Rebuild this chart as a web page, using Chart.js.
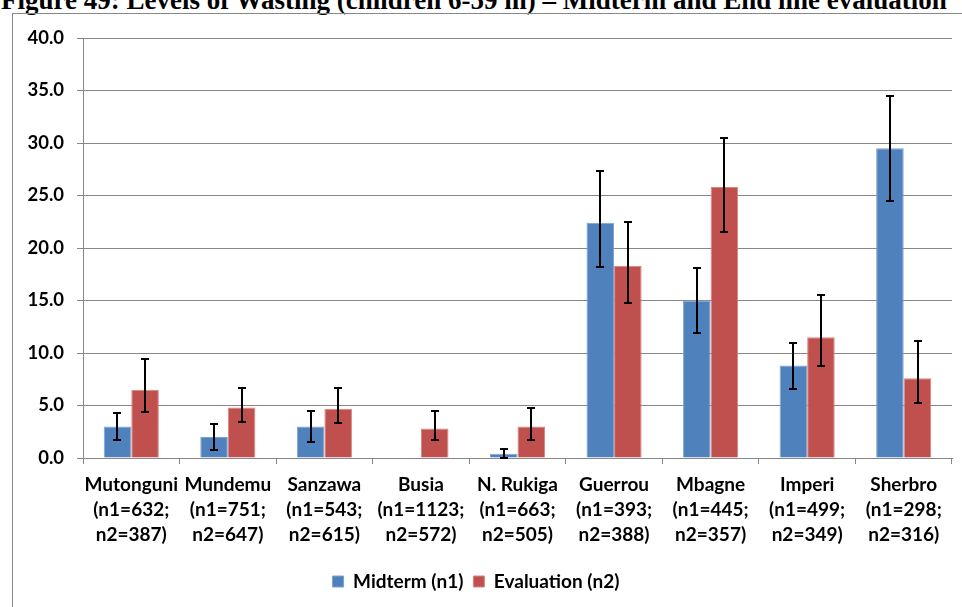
<!DOCTYPE html>
<html>
<head>
<meta charset="utf-8">
<script src="https://cdn.jsdelivr.net/npm/chart.js@4"></script>
<style>
  body { margin: 0; background: #fff; width: 962px; height: 607px; overflow: hidden; position: relative; }
  #title { position: absolute; left: 1px; top: -13px; font: bold 27px/27px "Liberation Serif", serif; white-space: nowrap; color: #000; }
  #frame { position: absolute; left: 12px; top: 13px; width: 1000px; height: 700px; border: 1px solid #878787; box-sizing: border-box; }
  #wrap { position: absolute; left: 0; top: 0; width: 997px; height: 607px; }
</style>
</head>
<body>
<div id="title">Figure 49: Levels of Wasting (children 6-59 m) – Midterm and End line evaluation</div>
<div id="frame"></div>
<div id="wrap"><canvas id="chart"></canvas></div>
<script>
const categories = [
  ['Mutonguni', '(n1=632;', 'n2=387)'],
  ['Mundemu', '(n1=751;', 'n2=647)'],
  ['Sanzawa', '(n1=543;', 'n2=615)'],
  ['Busia', '(n1=1123;', 'n2=572)'],
  ['N. Rukiga', '(n1=663;', 'n2=505)'],
  ['Guerrou', '(n1=393;', 'n2=388)'],
  ['Mbagne', '(n1=445;', 'n2=357)'],
  ['Imperi', '(n1=499;', 'n2=349)'],
  ['Sherbro', '(n1=298;', 'n2=316)']
];
const midterm = [3.0, 2.0, 3.0, 0, 0.4, 22.4, 15.0, 8.8, 29.5];
const evaluation = [6.5, 4.8, 4.7, 2.8, 3.0, 18.3, 25.8, 11.5, 7.6];
const midLow = [1.7, 0.8, 1.5, null, 0.0, 18.2, 11.9, 6.6, 24.5];
const midHigh = [4.3, 3.2, 4.5, null, 0.9, 27.3, 18.1, 11.0, 34.5];
const evalLow = [4.4, 3.4, 3.3, 1.7, 1.7, 14.8, 21.5, 8.8, 5.2];
const evalHigh = [9.4, 6.7, 6.7, 4.5, 4.8, 22.5, 30.5, 15.5, 11.1];

// draws the confidence intervals on top of the bars
const errorBars = {
  id: 'errorBars',
  afterDatasetsDraw(chart) {
    const ctx = chart.ctx;
    const y = chart.scales.y;
    chart.data.datasets.forEach((ds, i) => {
      const meta = chart.getDatasetMeta(i);
      meta.data.forEach((bar, j) => {
        const lo = ds.errLow[j], hi = ds.errHigh[j];
        if (lo == null || hi == null) return;
        const x = Math.round(bar.x);
        const yl = Math.round(y.getPixelForValue(lo)), yh = Math.round(y.getPixelForValue(hi));
        ctx.save();
        ctx.strokeStyle = '#000';
        ctx.lineWidth = 2;
        ctx.beginPath();
        ctx.moveTo(x, yl); ctx.lineTo(x, yh);
        ctx.moveTo(x - 4, yl); ctx.lineTo(x + 4, yl);
        ctx.moveTo(x - 4, yh); ctx.lineTo(x + 4, yh);
        ctx.stroke();
        ctx.restore();
      });
    });
  }
};

const font = { family: 'Lato', weight: 'bold', size: 19 };

new Chart(document.getElementById('chart'), {
  type: 'bar',
  data: {
    labels: categories,
    datasets: [
      { label: 'Midterm (n1)', data: midterm, errLow: midLow, errHigh: midHigh,
        backgroundColor: '#4F81BD', borderColor: '#7DA2D1', borderWidth: 1,
        categoryPercentage: 0.571, barPercentage: 1.0 },
      { label: 'Evaluation (n2)', data: evaluation, errLow: evalLow, errHigh: evalHigh,
        backgroundColor: '#C0504D', borderColor: '#D68583', borderWidth: 1,
        categoryPercentage: 0.571, barPercentage: 1.0 }
    ]
  },
  options: {
    responsive: true,
    maintainAspectRatio: false,
    animation: false,
    layout: { padding: { top: 38, right: 45, bottom: 6, left: 0 } },
    plugins: {
      legend: {
        position: 'bottom',
        labels: { boxWidth: 11, boxHeight: 11, font: font, color: '#000', padding: 10 }
      },
      tooltip: { enabled: false }
    },
    scales: {
      x: {
        grid: { drawOnChartArea: false, color: '#878787', tickLength: 6, offset: true },
        border: { color: '#878787', width: 1 },
        ticks: { font: { ...font, lineHeight: 1.3 }, color: '#000', maxRotation: 0, autoSkip: false, padding: 9 },
        afterFit(scale) { scale.height = 104; scale.paddingLeft = 0; scale.paddingRight = 0; }
      },
      y: {
        min: 0, max: 40,
        grid: { color: '#878787', tickLength: 6 },
        border: { color: '#878787', width: 1 },
        ticks: { stepSize: 5, font: { ...font, size: 18.5 }, color: '#000', padding: 13, callback: v => v.toFixed(1) },
        afterFit(scale) { scale.width = 83; scale.paddingTop = 0; scale.paddingBottom = 0; }
      }
    }
  },
  plugins: [errorBars]
});
</script>
</body>
</html>
